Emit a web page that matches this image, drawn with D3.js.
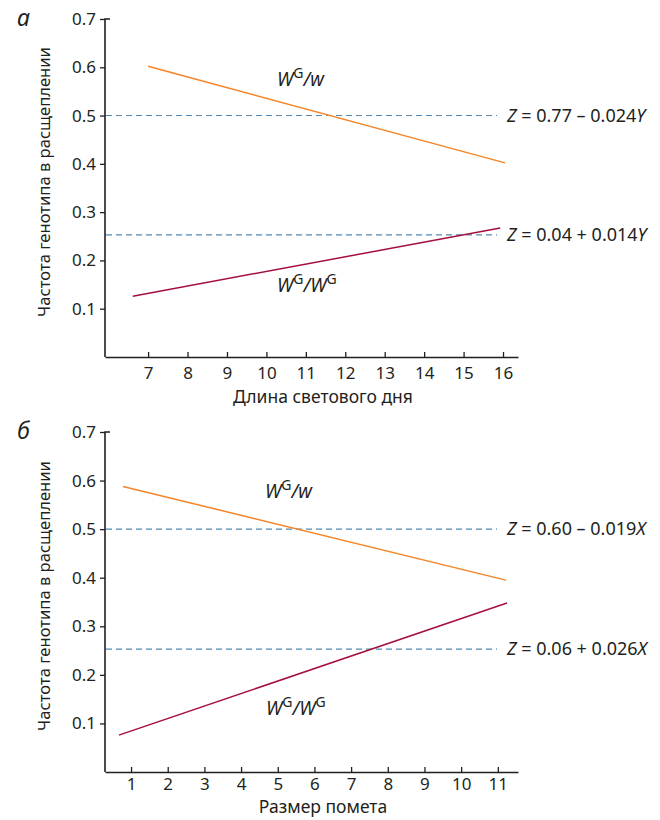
<!DOCTYPE html>
<html>
<head>
<meta charset="utf-8">
<script src="https://cdn.jsdelivr.net/npm/d3@7"></script>
<style>
  body { margin: 0; background: #fff; }
  text { font-family: "Noto Sans", sans-serif; fill: #231f20; }
</style>
</head>
<body>
<div id="chart"></div>
<script>
// panel а: day length
const dayTicks = [7, 8, 9, 10, 11, 12, 13, 14, 15, 16]
const dayOrangeX = [7.0, 16.05]
const dayOrangeY = [0.602, 0.402]
const dayRedX = [6.61, 15.93]
const dayRedY = [0.126, 0.267]
const dayRefs = [0.5, 0.253]
const dayEq = [["0.77 – 0.024", "Y"], ["0.04 + 0.014", "Y"]]

// panel б: litter size
const litterTicks = [1, 2, 3, 4, 5, 6, 7, 8, 9, 10, 11]
const litterOrangeX = [0.78, 11.22]
const litterOrangeY = [0.588, 0.395]
const litterRedX = [0.67, 11.25]
const litterRedY = [0.076, 0.348]
const litterRefs = [0.5, 0.253]
const litterEq = [["0.60 – 0.019", "X"], ["0.06 + 0.026", "X"]]

const yTicks = [0.1, 0.2, 0.3, 0.4, 0.5, 0.6, 0.7]

const orange = "#f58426"
const darkRed = "#a50f3c"
const dashBlue = "#5289b3"
const axisColor = "#231f20"

var width = 660, height = 820

var svg = d3.select("#chart")
    .append("svg")
    .attr("width", width)
    .attr("height", height)

function drawPanel(opt) {
    var x = d3.scaleLinear().domain(opt.xDomain).range([105, 518])
    var y = d3.scaleLinear().domain([0, 0.7]).range([opt.bottom, opt.top])

    var g = svg.append("g")

    // x axis, ticks pointing up
    var xAxis = d3.axisBottom(x)
        .tickValues(opt.xTicks)
        .tickSize(-5)
        .tickSizeOuter(0)
        .tickPadding(opt.xPad)
        .tickFormat(d3.format("d"))
    var gx = g.append("g")
        .attr("transform", "translate(0," + opt.bottom + ")")
        .call(xAxis)
    gx.select(".domain").attr("stroke", axisColor).attr("stroke-width", 1.6)
    gx.selectAll(".tick line").attr("stroke", axisColor).attr("stroke-width", 1.3)
    gx.selectAll(".tick text").style("font-size", "17px").attr("fill", axisColor)

    // y axis, ticks pointing left
    var yAxis = d3.axisLeft(y)
        .tickValues(yTicks)
        .tickSize(5)
        .tickSizeOuter(0)
        .tickPadding(4)
        .tickFormat(d3.format(".1f"))
    var gy = g.append("g")
        .attr("transform", "translate(105,0)")
        .call(yAxis)
    gy.select(".domain").remove()
    gy.selectAll(".tick line").attr("stroke", axisColor).attr("stroke-width", 1.3)
    gy.selectAll(".tick text").style("font-size", "17px").attr("fill", axisColor)
    g.append("path")
        .attr("d", "M110," + y(0.7) + "H105V" + opt.bottom)
        .attr("fill", "none")
        .attr("stroke", axisColor)
        .attr("stroke-width", 1.6)

    // dashed reference lines + equations
    opt.refs.forEach(function (r, i) {
        g.append("line")
            .attr("x1", 106).attr("x2", 497)
            .attr("y1", y(r)).attr("y2", y(r))
            .attr("stroke", dashBlue)
            .attr("stroke-width", 1.1)
            .attr("stroke-dasharray", "6,4")
        var t = g.append("text")
            .attr("x", 507)
            .attr("y", y(r) + 6)
            .style("font-size", "18px")
        t.append("tspan").style("font-style", "italic").text("Z")
        t.append("tspan").text(" = " + opt.eq[i][0])
        t.append("tspan").style("font-style", "italic").text(opt.eq[i][1])
    })

    var line = d3.line()
        .x(function (d) { return x(d[0]) })
        .y(function (d) { return y(d[1]) })

    g.append("path")
        .datum(d3.zip(opt.orangeX, opt.orangeY))
        .attr("d", line)
        .attr("fill", "none")
        .attr("stroke", orange)
        .attr("stroke-width", 1.5)

    g.append("path")
        .datum(d3.zip(opt.redX, opt.redY))
        .attr("d", line)
        .attr("fill", "none")
        .attr("stroke", darkRed)
        .attr("stroke-width", 1.5)

    // genotype labels
    function genoLabel(px, py, second) {
        var t = g.append("text")
            .attr("x", px).attr("y", py)
            .style("font-size", "19px")
            .style("font-style", "italic")
        t.append("tspan").text("W")
        t.append("tspan").attr("dy", -8).style("font-size", "14px").style("font-style", "normal").text("G")
        t.append("tspan").attr("dy", 8).text("/" + (second ? "W" : "w"))
        if (second) {
            t.append("tspan").attr("dy", -8).style("font-size", "14px").style("font-style", "normal").text("G")
        }
    }
    genoLabel(opt.lab1[0], opt.lab1[1], false)
    genoLabel(opt.lab2[0], opt.lab2[1], true)

    // axis titles
    g.append("text")
        .attr("x", 323)
        .attr("y", opt.bottom + opt.titleOff)
        .attr("text-anchor", "middle")
        .style("font-size", "17.5px")
        .text(opt.xTitle)

    g.append("text")
        .attr("transform", "translate(50," + ((opt.top + opt.bottom) / 2 - 6) + ") rotate(-90)")
        .attr("text-anchor", "middle")
        .style("font-size", "16.6px")
        .text("Частота генотипа в расщеплении")

    g.append("text")
        .attr("x", 17)
        .attr("y", opt.top + 7)
        .style("font-size", "23px")
        .style("font-style", "italic")
        .text(opt.letter)
}

drawPanel({
    letter: "а",
    top: 19, bottom: 357,
    xDomain: [5.907, 16.38],
    xTicks: dayTicks,
    xPad: 10,
    titleOff: 46,
    xTitle: "Длина светового дня",
    orangeX: dayOrangeX, orangeY: dayOrangeY,
    redX: dayRedX, redY: dayRedY,
    refs: dayRefs, eq: dayEq,
    lab1: [277, 86], lab2: [277, 292]
})

drawPanel({
    letter: "б",
    top: 432, bottom: 772,
    xDomain: [0.29, 11.55],
    xTicks: litterTicks,
    xPad: 6,
    titleOff: 41,
    xTitle: "Размер помета",
    orangeX: litterOrangeX, orangeY: litterOrangeY,
    redX: litterRedX, redY: litterRedY,
    refs: litterRefs, eq: litterEq,
    lab1: [265, 498], lab2: [266, 715]
})
</script>
</body>
</html>
